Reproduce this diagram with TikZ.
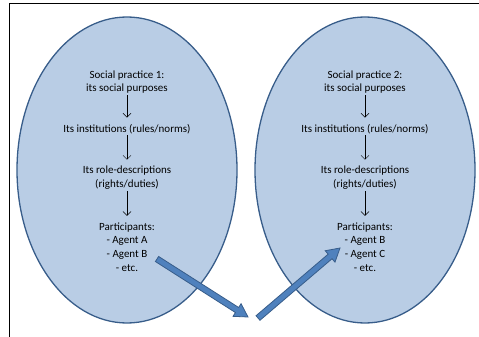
\documentclass[tikz,border=0pt]{standalone}
\usepackage{fontspec}
\setmainfont{Carlito}
\usetikzlibrary{arrows.meta, calc, shapes.geometric}

\definecolor{bubblefill}{RGB}{185,205,229}
\definecolor{bubbleline}{RGB}{56,93,138}
\definecolor{blockfill}{RGB}{79,129,189}

\begin{document}
\begin{tikzpicture}[
    x=1pt, y=-1pt,
    practice/.style={ellipse, draw=bubbleline, line width=1.3pt, fill=bubblefill,
        minimum width=220pt, minimum height=306pt, inner sep=0pt},
    item/.style={align=center, inner sep=0pt, font=\fontsize{11}{13.8}\selectfont},
    flow/.style={-{Straight Barb[length=4pt, width=8pt]}, thin, black,
        shorten <=1.5pt, shorten >=6.5pt},
    block/.style={fill=blockfill, draw=bubbleline, line width=0.8pt, line join=miter}
]
    \useasboundingbox (0,0) rectangle (479,337);

    % --- FRAME (top and left edge only) ---
    \draw[line width=0.8pt] (9,337) -- (9,3) -- (479,3);

    % --- THE TWO PRACTICES ---
    % same column of items in each ellipse, only the agents differ
    \foreach \i/\cx/\first/\second in {1/127/A/B, 2/365/B/C} {
        \node[practice] (P\i) at (\cx,170) {};
        \node[item] (P\i-1) at (\cx,82) {Social practice \i:\\its social purposes};
        \node[item] (P\i-2) at (\cx,129) {Its institutions (rules/norms)};
        \node[item] (P\i-3) at (\cx,178) {Its role-descriptions\\(rights/duties)};
        \node[item] (P\i-4) at (\cx,247) {Participants:\\- Agent \first\\- Agent \second\\- etc.};

        \foreach \j [evaluate=\j as \k using int(\j+1)] in {1,2,3} {
            \draw[flow] (P\i-\j) -- (P\i-\k);
        }
    }

    % --- BLOCK ARROWS: agents moving from one practice to the other ---
    \coordinate (outA) at (157,259);
    \coordinate (inA) at (248,317);
    \coordinate (outB) at (258,318);
    \coordinate (inB) at (340,248);

    \foreach \from/\to in {outA/inA, outB/inB} {
        \coordinate (base) at ($(\to)!13pt!(\from)$);
        \draw[block] ($(\from)!3pt!90:(\to)$) -- ($(base)!3pt!90:(\to)$)
            -- ($(base)!7.5pt!90:(\to)$) -- (\to) -- ($(base)!7.5pt!-90:(\to)$)
            -- ($(base)!3pt!-90:(\to)$) -- ($(\from)!3pt!-90:(\to)$) -- cycle;
    }

\end{tikzpicture}
\end{document}
